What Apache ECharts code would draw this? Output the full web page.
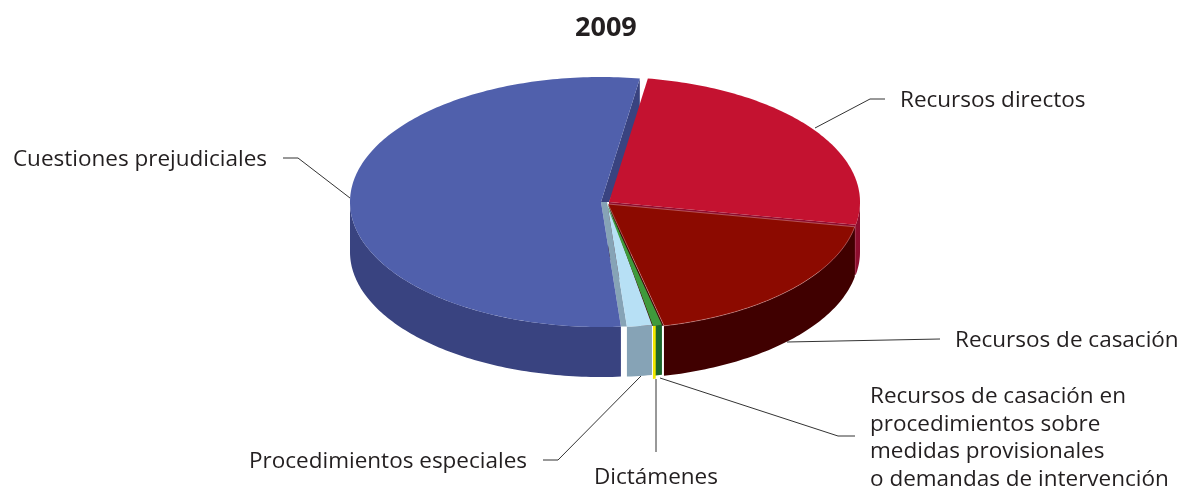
<!DOCTYPE html>
<html><head><meta charset="utf-8">
<style>html,body{margin:0;padding:0;background:#fff}#c{width:1179px;height:486px}</style>
<script src="https://cdn.jsdelivr.net/npm/echarts@6/dist/echarts.min.js"></script>
</head><body><div id="c"></div>
<script>
// Data: reading order clockwise from the red slice
const categories = ['Recursos directos','Recursos de casación','Recursos de casación en procedimientos sobre medidas provisionales o demandas de intervención','Dictámenes','Procedimientos especiales','Cuestiones prejudiciales'];
const values = [143, 104, 3, 1, 9, 302];
const chartTitle = '2009';

// Layout and style (not data)
const startAngle = 8.9, RX = 251, RY = 125, DEPTH = 50;
const sliceStyle = [
  {cx:609,cy:202,top:'#C41230',wall:'#8E0D2E',z:5, extra:0,face:'full'},
  {cx:608,cy:204,top:'#8C0A00',wall:'#400000',z:6, extra:0,face:'full',edge:'rgba(255,210,210,0.45)'},
  {cx:606,cy:203,top:'#3F9A3C',wall:'#1B672B',z:8, extra:0},
  {cx:608,cy:203,top:'#3F9A3C',wall:'#F2E800',z:9, extra:3},
  {cx:607,cy:202,top:'#B7E0F5',wall:'#86A3B6',z:7, extra:0,face:'band',band:6},
  {cx:601,cy:202,top:'#5060AC',wall:'#394380',z:20,extra:0,face:'back',band:8,endZ:1}
];
const labelLayout = [
  {lines:[[815,128],[870,99],[885,99]],x:900,y:101,align:'left'},
  {lines:[[787,342],[940,339]],x:955,y:341,align:'left'},
  {lines:[[660,378],[838,436],[855,436]],x:870,y:397,align:'left',wrap:['Recursos de casación en','procedimientos sobre','medidas provisionales','o demandas de intervención']},
  {lines:[[656,379],[656,452]],x:656,y:478,align:'center'},
  {lines:[[641,376],[558,460],[543,460]],x:527,y:462,align:'right'},
  {lines:[[350,198],[298,158],[283,158]],x:267,y:160,align:'right'}
];
const FONT = '"Open Sans","Noto Sans",sans-serif', FS = 22.5, LH = 27.5;

const total = values.reduce((a,b)=>a+b,0);
const starts = []; values.reduce((acc,v,i)=>{starts[i]=acc;return acc+v/total*360;},startAngle);

function pt(s,deg,dy){const r=deg*Math.PI/180;return [s.cx+RX*Math.sin(r), s.cy-RY*Math.cos(r)+(dy||0)];}
function arc(s,a,b,dy){const out=[];const n=Math.max(2,Math.ceil(Math.abs(b-a)));for(let i=0;i<=n;i++)out.push(pt(s,a+(b-a)*i/n,dy));return out;}

function renderItem(params,api){
  const i=params.dataIndex, s=sliceStyle[i], a=starts[i], b=a+api.value(0)/total*360;
  const kids=[], d=DEPTH+s.extra;
  // radial face at the clockwise end of the slice
  const e=((b%360)+360)%360;
  if(s.face && e<180){
    const c=pt(s,e), ap=[s.cx,s.cy];
    let poly=[ap,c,[c[0],c[1]+d],[ap[0],ap[1]+d]];
    if(s.face==='full' && c[1]>ap[1]+d){
      const t=(c[1]-(ap[1]+d))/(c[1]-ap[1]);
      poly=[ap,c,[ap[0]+(c[0]-ap[0])*t,c[1]],[ap[0],ap[1]+d]];
    }
    if(s.face==='band') poly=[ap,c,[c[0]-s.band,c[1]],[ap[0]-s.band,ap[1]]];
    if(s.face==='back') poly=[ap,c,[c[0],c[1]+d],[ap[0]+s.band,ap[1]]];
    kids.push({type:'polygon',shape:{points:poly},style:{fill:s.wall},z2:s.endZ||s.z,silent:true});
  }
  // outer rim, front half only
  const lo=Math.max(a,90), hi=Math.min(b,270);
  if(hi>lo){
    kids.push({type:'polygon',shape:{points:arc(s,lo,hi,0).concat(arc(s,hi,lo,d))},style:{fill:s.wall},z2:s.z,silent:true});
  }
  // top face
  kids.push({type:'polygon',shape:{points:[[s.cx,s.cy]].concat(arc(s,a,b,0))},
    style:{fill:s.top,stroke:s.edge||null,lineWidth:s.edge?0.8:0},z2:s.z+0.5,silent:true});
  // leader and label
  const L=labelLayout[i];
  kids.push({type:'polyline',shape:{points:L.lines},style:{fill:null,stroke:'#333',lineWidth:1},z2:30,silent:true});
  const rows=L.wrap||[api.value(1)];
  rows.forEach((t,k)=>kids.push({type:'text',z2:31,silent:true,
    style:{x:L.x,y:L.y+k*LH,text:t,fill:'#231F20',font:FS+'px '+FONT,align:L.align,verticalAlign:'middle'}}));
  return {type:'group',children:kids};
}

const chart=echarts.init(document.getElementById('c'),null,{renderer:'canvas'});
chart.setOption({
  animation:false,backgroundColor:'#fff',
  title:{text:chartTitle,left:570,top:10,textStyle:{fontFamily:FONT,fontWeight:'bold',fontSize:27,color:'#231F20'}},
  series:[{type:'custom',coordinateSystem:'none',renderItem,clip:false,
    data:values.map((v,i)=>({name:categories[i],value:[v,categories[i]]}))}]
});
</script></body></html>
